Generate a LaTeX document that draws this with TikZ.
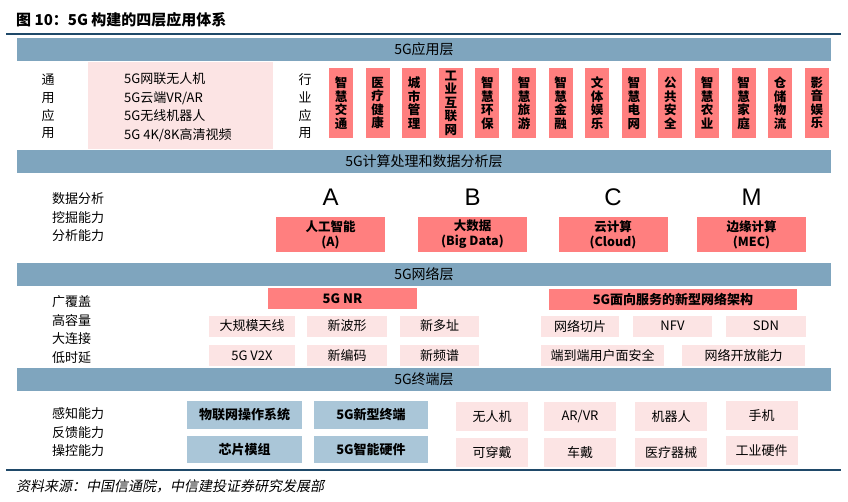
\documentclass[tikz,border=0pt]{standalone}
\usepackage{fontspec}
\setmainfont{Noto Sans CJK SC}
\newfontfamily\srcfont{Noto Sans CJK SC}[FakeSlant=0.2]
\newfontfamily\latinfont{Liberation Sans}
\usepackage{tikz}
\usetikzlibrary{positioning}

\definecolor{barblue}{HTML}{7FA5BE}
\definecolor{redfill}{HTML}{FF7F7F}
\definecolor{pinkfill}{HTML}{FCE4E4}
\definecolor{greyblue}{HTML}{AAC6D8}
\definecolor{rulenavy}{HTML}{1F4969}

\begin{document}
\begin{tikzpicture}[x=1pt, y=-1pt,
    bar/.style={fill=barblue, minimum width=814pt, minimum height=23pt, inner sep=0pt, font=\fontsize{14}{14}\selectfont},
    redbox/.style={fill=redfill, inner sep=0pt, align=center, font=\bfseries\fontsize{12.5}{13.5}\selectfont},
    pinkbox/.style={fill=pinkfill, inner sep=0pt, minimum height=21pt, font=\fontsize{13}{13}\selectfont},
    greybox/.style={fill=greyblue, inner sep=0pt, minimum width=115pt, minimum height=28pt, font=\bfseries\fontsize{13}{13}\selectfont},
    devbox/.style={fill=pinkfill, inner sep=0pt, minimum width=72pt, minimum height=29pt, font=\fontsize{13}{13}\selectfont},
    lbl/.style={anchor=west, align=left, inner sep=0pt, font=\fontsize{13}{18.5}\selectfont},
    letter/.style={inner sep=0pt, font=\latinfont\fontsize{24}{24}\selectfont},
]
    \useasboundingbox (0,0) rectangle (848,501);

    \node[anchor=west, inner sep=0pt, font=\bfseries\fontsize{15}{15}\selectfont] (title) at (16,20) {图 10：5G 构建的四层应用体系};
    \draw[rulenavy, line width=1.2pt] (6,34) -- (841,34);
    \draw[rulenavy, line width=1.2pt] (6,470) -- (841,470);
    \node[anchor=west, inner sep=0pt, font=\srcfont\fontsize{14}{14}\selectfont] (src) at (16,486) {资料来源：中国信通院，中信建投证券研究发展部};

    % layer bars
    \node[bar] (app) at (424,49.5) {5G应用层};
    \node[bar] (comp) at (424,161.5) {5G计算处理和数据分析层};
    \node[bar] (net) at (424,274) {5G网络层};
    \node[bar] (term) at (424,379) {5G终端层};

    % application layer
    \node[inner sep=0pt, align=center, font=\fontsize{13}{17.7}\selectfont] (gen) at (48,106.5) {通\\用\\应\\用};
    \node[fill=pinkfill, minimum width=185pt, minimum height=87pt] (genbox) at (180.5,105.5) {};
    \node[lbl] (genlist) at (124,107) {5G网联无人机\\5G云端VR/AR\\5G无线机器人\\5G 4K/8K高清视频};
    \node[inner sep=0pt, align=center, font=\fontsize{13}{17.7}\selectfont] (indl) at (305,106.5) {行\\业\\应\\用};
    \foreach \t [count=\i from 0] in {{智\\慧\\交\\通},{医\\疗\\健\\康},{城\\市\\管\\理},{工\\业\\互\\联\\网},
        {智\\慧\\环\\保},{智\\慧\\旅\\游},{智\\慧\\金\\融},{文\\体\\娱\\乐},{智\\慧\\电\\网},{公\\共\\安\\全},
        {智\\慧\\农\\业},{智\\慧\\家\\庭},{仓\\储\\物\\流},{影\\音\\娱\\乐}}
        \node[redbox, minimum width=24pt, minimum height=70pt] (ind\i) at (341+36.6*\i,103) {\t};

    % computing layer
    \node[lbl] (ana) at (52,217.5) {数据分析\\挖掘能力\\分析能力};
    \node[redbox, minimum width=109pt, minimum height=35pt, font=\bfseries\fontsize{12.5}{15}\selectfont] (ai) at (330.5,234.5) {人工智能\\(A)};
    \node[redbox, minimum width=109pt, minimum height=35pt, font=\bfseries\fontsize{12.5}{15}\selectfont] (bd) at (472.5,234.5) {大数据\\(Big Data)};
    \node[redbox, minimum width=109pt, minimum height=35pt, font=\bfseries\fontsize{12.5}{15}\selectfont] (cloud) at (613,234.5) {云计算\\(Cloud)};
    \node[redbox, minimum width=109pt, minimum height=35pt, font=\bfseries\fontsize{12.5}{15}\selectfont] (mec) at (751.5,234.5) {边缘计算\\(MEC)};
    \node[letter, above=11pt of ai] (la) {A};
    \node[letter, above=11pt of bd] (lb) {B};
    \node[letter, above=11pt of cloud] (lc) {C};
    \node[letter, above=11pt of mec] (lm) {M};

    % network layer
    \node[lbl] (cap) at (52,329.5) {广覆盖\\高容量\\大连接\\低时延};
    \node[redbox, minimum width=149pt, minimum height=21pt, font=\bfseries\fontsize{13}{13}\selectfont] (nr) at (342.5,298.5) {5G NR};
    \node[redbox, minimum width=248pt, minimum height=21pt, font=\bfseries\fontsize{13}{13}\selectfont] (sba) at (673,299.5) {5G面向服务的新型网络架构};
    \node[pinkbox, minimum width=86pt] (mimo) at (252,326) {大规模天线};
    \node[pinkbox, minimum width=80pt] (wave) at (347,326) {新波形};
    \node[pinkbox, minimum width=79pt] (mult) at (439.5,326) {新多址};
    \node[pinkbox, minimum width=78pt] (slice) at (580,326) {网络切片};
    \node[pinkbox, minimum width=79pt] (nfv) at (672.5,326) {NFV};
    \node[pinkbox, minimum width=80pt] (sdn) at (766,326) {SDN};
    \node[pinkbox, minimum width=86pt] (v2x) at (252,355.5) {5G V2X};
    \node[pinkbox, minimum width=80pt] (code) at (347,355.5) {新编码};
    \node[pinkbox, minimum width=79pt] (spec) at (439.5,355.5) {新频谱};
    \node[pinkbox, minimum width=123pt] (sec) at (602.5,355.5) {端到端用户面安全};
    \node[pinkbox, minimum width=123pt] (open) at (743.5,355.5) {网络开放能力};

    % terminal layer
    \node[lbl] (sense) at (52,432.5) {感知能力\\反馈能力\\操控能力};
    \node[greybox] (iotos) at (244.5,415) {物联网操作系统};
    \node[greybox, minimum width=114pt] (newterm) at (371,415) {5G新型终端};
    \node[greybox, minimum height=27pt] (chip) at (244.5,449.5) {芯片模组};
    \node[greybox, minimum width=114pt, minimum height=27pt] (smart) at (371,449.5) {5G智能硬件};
    \node[devbox] (uav) at (492,416.5) {无人机};
    \node[devbox] (arvr) at (580,416.5) {AR/VR};
    \node[devbox] (robot) at (671,416.5) {机器人};
    \node[devbox] (phone) at (761.5,415.5) {手机};
    \node[devbox] (wear) at (492,452.5) {可穿戴};
    \node[devbox] (car) at (580,452.5) {车戴};
    \node[devbox] (med) at (671,452.5) {医疗器械};
    \node[devbox] (indhw) at (761.5,450.5) {工业硬件};
\end{tikzpicture}
\end{document}
